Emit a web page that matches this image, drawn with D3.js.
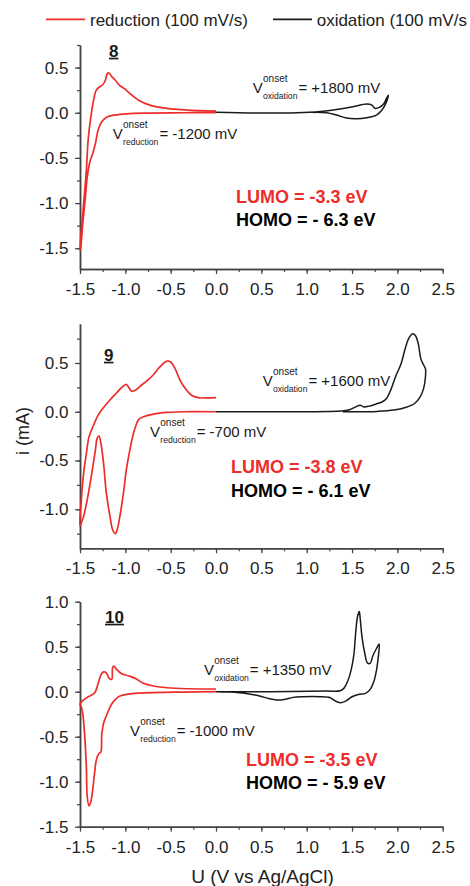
<!DOCTYPE html>
<html>
<head>
<meta charset="utf-8">
<script src="https://cdn.jsdelivr.net/npm/d3@7"></script>
<style>
body{margin:0;background:#fff;}
svg{display:block;}
text{font-family:"Liberation Sans",Arial,Helvetica,sans-serif;}
</style>
</head>
<body>
<svg id="chart" width="470" height="886"></svg>
<script>
// values: [U (V), i (mA)]
const red8 = [[0,0],[-0.36,0],[-0.73,-0.004],[-0.91,-0.007],[-1.06,-0.019],[-1.17,-0.037],[-1.21,-0.052],[-1.26,-0.10],[-1.30,-0.19],[-1.33,-0.34],[-1.36,-0.45],[-1.39,-0.54],[-1.42,-0.71],[-1.44,-0.93],[-1.47,-1.23],[-1.49,-1.47],[-1.50,-1.52],
  [-1.49,-1.36],[-1.46,-1.01],[-1.43,-0.64],[-1.41,-0.30],[-1.38,-0.044],[-1.35,0.14],[-1.32,0.25],[-1.28,0.29],[-1.25,0.31],[-1.22,0.36],[-1.20,0.43],[-1.18,0.44],[-1.15,0.40],[-1.11,0.36],[-1.06,0.30],[-1.00,0.26],[-0.97,0.23],[-0.91,0.18],[-0.84,0.13],[-0.73,0.085],[-0.54,0.048],[-0.32,0.03],[0,0.019]];
const ox8 = [[0,0.005],[0.52,-0.004],[0.89,0],[1.15,0.015],[1.33,0.037],[1.51,0.066],[1.66,0.096],[1.72,0.085],[1.75,0.05],[1.80,0.059],[1.85,0.10],[1.88,0.16],[1.90,0.195],
  [1.88,0.12],[1.83,0.03],[1.77,-0.026],[1.66,-0.055],[1.55,-0.066],[1.44,-0.059],[1.33,-0.026],[1.22,0],[1.07,0.004]];
const red9 = [[0,0],[-0.36,0],[-0.54,-0.007],[-0.69,-0.024],[-0.80,-0.051],[-0.85,-0.075],[-0.875,-0.12],[-0.91,-0.22],[-0.95,-0.39],[-0.99,-0.60],[-1.02,-0.83],[-1.06,-1.07],[-1.09,-1.21],[-1.11,-1.25],[-1.14,-1.21],[-1.17,-1.07],[-1.21,-0.83],[-1.24,-0.53],[-1.27,-0.32],[-1.29,-0.25],[-1.31,-0.27],[-1.33,-0.39],[-1.37,-0.63],[-1.42,-0.90],[-1.46,-1.07],[-1.50,-1.17],
  [-1.485,-0.90],[-1.46,-0.63],[-1.43,-0.43],[-1.40,-0.255],[-1.35,-0.136],[-1.30,-0.034],[-1.24,0.044],[-1.17,0.12],[-1.10,0.19],[-1.04,0.25],[-0.99,0.28],[-0.97,0.26],[-0.93,0.21],[-0.89,0.22],[-0.84,0.26],[-0.76,0.32],[-0.69,0.38],[-0.62,0.46],[-0.54,0.52],[-0.50,0.51],[-0.45,0.44],[-0.40,0.33],[-0.34,0.24],[-0.27,0.17],[-0.18,0.143],[-0.085,0.143],[0,0.146]];
const ox9 = [[0,0],[0.5,0],[1.0,0],[1.41,0.01],[1.48,0.024],[1.54,0.05],[1.59,0.068],[1.63,0.05],[1.69,0.058],[1.76,0.078],[1.83,0.10],[1.88,0.136],[1.93,0.23],[1.98,0.36],[2.04,0.49],[2.09,0.66],[2.13,0.76],[2.17,0.80],[2.20,0.78],[2.23,0.70],[2.26,0.54],[2.29,0.48],[2.31,0.44],
  [2.31,0.36],[2.29,0.24],[2.25,0.15],[2.19,0.085],[2.09,0.044],[1.96,0.017],[1.78,0.004],[1.60,0.001],[1.40,0]];
const red10 = [[0,0],[-0.36,-0.004],[-0.62,-0.007],[-0.84,-0.015],[-0.97,-0.026],[-1.06,-0.048],[-1.11,-0.085],[-1.15,-0.137],[-1.19,-0.22],[-1.21,-0.27],[-1.24,-0.35],[-1.26,-0.48],[-1.27,-0.67],[-1.29,-0.685],[-1.32,-0.76],[-1.34,-0.91],[-1.36,-1.09],[-1.38,-1.22],[-1.40,-1.27],[-1.42,-1.17],[-1.43,-0.83],[-1.45,-0.46],[-1.47,-0.24],[-1.485,-0.17],[-1.50,-0.137],
  [-1.47,-0.10],[-1.42,-0.063],[-1.37,-0.037],[-1.33,0],[-1.30,0.093],[-1.27,0.185],[-1.24,0.22],[-1.21,0.21],[-1.18,0.15],[-1.15,0.137],[-1.14,0.27],[-1.125,0.285],[-1.10,0.25],[-1.04,0.20],[-0.97,0.178],[-0.89,0.148],[-0.80,0.093],[-0.69,0.063],[-0.54,0.044],[-0.32,0.033],[0,0.03]];
const ox10 = [[0,0],[0.6,0],[1.22,0.007],[1.37,0.011],[1.41,0.037],[1.45,0.11],[1.49,0.24],[1.52,0.41],[1.54,0.65],[1.56,0.83],[1.58,0.89],[1.59,0.815],[1.61,0.61],[1.64,0.43],[1.67,0.32],[1.70,0.315],[1.73,0.40],[1.77,0.48],[1.80,0.53],
  [1.79,0.39],[1.77,0.24],[1.74,0.11],[1.70,0.026],[1.65,-0.019],[1.57,-0.03],[1.50,-0.056],[1.43,-0.104],[1.37,-0.122],[1.31,-0.10],[1.26,-0.067],[1.15,-0.056],[0.96,-0.056],[0.85,-0.063],[0.76,-0.085],[0.69,-0.093],[0.59,-0.078],[0.48,-0.048],[0.33,-0.019],[0.15,-0.004],[0,0]];

const xTicks = [-1.5,-1.0,-0.5,0.0,0.5,1.0,1.5,2.0,2.5];
const yTicks8 = [-1.5,-1.0,-0.5,0.0,0.5];
const yTicks9 = [-1.0,-0.5,0.0,0.5];
const yTicks10 = [-1.5,-1.0,-0.5,0.0,0.5,1.0];
const compounds = ['8','9','10'];
const redOnset = ['-1200','-700','-1000'];
const oxOnset = ['+1800','+1600','+1350'];
const lumo = ['-3.3','-3.8','-3.5'];
const homo = ['6.3','6.1','5.9'];
// second legend entry is cut at the right edge in the original figure
const seriesNames = ['reduction (100 mV/s)','oxidation (100 mV/s'];

const RED = '#ec2d2a', INK = '#1a1a1a', AXIS = '#444';
const svg = d3.select('#chart');
const x = d3.scaleLinear().domain([-1.5,2.5]).range([80,442.7]);

// layout of the three stacked panels
const layout = [
  {red:red8, ox:ox8, yt:yTicks8, dom:[-1.73,0.75], top:45, bot:269,
   lab:[109,56.7], rv:[112.7,139.3], ov:[252.7,93], lh:[236,202.7]},
  {red:red9, ox:ox9, yt:yTicks9, dom:[-1.4,0.9], top:324, bot:548.3,
   lab:[104,360.7], rv:[150,436.5], ov:[262.7,386], lh:[231,473.3]},
  {red:red10, ox:ox10, yt:yTicks10, dom:[-1.5,1.0], top:601.7, bot:826.7,
   lab:[105,622.7], rv:[130,736], ov:[204,675], lh:[246,766]}
];

const fmt = d => d.toFixed(1);
const minorX = d3.range(-1.5,2.51,0.25);

function vLabel(g, px, py, sub, val) {
  const t = g.append('text').attr('x',px).attr('y',py).attr('font-size',15).attr('fill',INK).text('V');
  const sx = px + t.node().getComputedTextLength() + 0.3;
  const s1 = g.append('text').attr('x',sx).attr('y',py-11).attr('font-size',10).attr('fill',INK).text('onset');
  const s2 = g.append('text').attr('x',sx).attr('y',py+6).attr('font-size',8.6).attr('fill',INK).text(sub);
  const w = Math.max(s1.node().getComputedTextLength(), s2.node().getComputedTextLength());
  g.append('text').attr('x',sx+w+1).attr('y',py).attr('font-size',15).attr('fill',INK).text('= '+val+' mV');
}

layout.forEach((p,k) => {
  const y = d3.scaleLinear().domain(p.dom).range([p.bot,p.top]);
  const g = svg.append('g');
  const minorY = d3.range(Math.ceil(p.dom[0]*4)/4, p.dom[1]+0.001, 0.25);

  // axes: minor ticks then major ticks with labels
  g.append('g').attr('transform',`translate(0,${p.bot})`)
    .call(d3.axisBottom(x).tickValues(minorX).tickSize(3).tickSizeOuter(0).tickFormat(''));
  g.append('g').attr('transform',`translate(0,${p.bot})`)
    .call(d3.axisBottom(x).tickValues(xTicks).tickSize(5).tickSizeOuter(0).tickPadding(9).tickFormat(fmt));
  g.append('g').attr('transform',`translate(${x(-1.5)},0)`)
    .call(d3.axisLeft(y).tickValues(minorY).tickSize(3).tickSizeOuter(0).tickFormat(''));
  g.append('g').attr('transform',`translate(${x(-1.5)},0)`)
    .call(d3.axisLeft(y).tickValues(p.yt).tickSize(5).tickSizeOuter(0).tickPadding(6.5).tickFormat(fmt));
  g.selectAll('.domain').attr('stroke',AXIS).attr('stroke-width',1.5);
  g.selectAll('.tick line').attr('stroke',AXIS).attr('stroke-width',1.2);
  g.selectAll('.tick text').attr('font-size',17).attr('fill','#222')
    .attr('font-family','"Liberation Sans",Arial,sans-serif');

  const line = d3.line().x(d => x(d[0])).y(d => y(d[1])).curve(d3.curveCatmullRom.alpha(0.5));
  g.append('path').datum(p.ox).attr('d',line).attr('fill','none').attr('stroke',INK).attr('stroke-width',1.5);
  g.append('path').datum(p.red).attr('d',line).attr('fill','none').attr('stroke',RED).attr('stroke-width',1.7);

  g.append('text').attr('x',p.lab[0]).attr('y',p.lab[1]).attr('font-size',17).attr('font-weight','bold')
    .attr('fill',INK).style('text-decoration','underline').text(compounds[k]);

  vLabel(g, p.rv[0], p.rv[1], 'reduction', redOnset[k]);
  vLabel(g, p.ov[0], p.ov[1], 'oxidation', oxOnset[k]);

  g.append('text').attr('x',p.lh[0]).attr('y',p.lh[1]).attr('font-size',18).attr('font-weight','bold')
    .attr('fill',RED).text('LUMO = '+lumo[k]+' eV');
  g.append('text').attr('x',p.lh[0]).attr('y',p.lh[1]+23.3).attr('font-size',18).attr('font-weight','bold')
    .attr('fill','#000').text('HOMO = - '+homo[k]+' eV');
});

// legend
const leg = svg.append('g');
[[46,90,RED],[273,316.7,INK]].forEach((l,i) => {
  leg.append('line').attr('x1',l[0]).attr('x2',l[0]+39).attr('y1',19.3).attr('y2',19.3)
    .attr('stroke',l[2]).attr('stroke-width',1.7);
  leg.append('text').attr('x',l[1]).attr('y',26).attr('font-size',17).attr('fill','#222').text(seriesNames[i]);
});

// axis titles
svg.append('text').attr('transform','translate(28.5,431) rotate(-90)').attr('text-anchor','middle')
  .attr('font-size',18).attr('fill','#222').text('i (mA)');
svg.append('text').attr('x',262.5).attr('y',883.3).attr('text-anchor','middle')
  .attr('font-size',19).attr('fill','#222').text('U (V vs Ag/AgCl)');
</script>
</body>
</html>
